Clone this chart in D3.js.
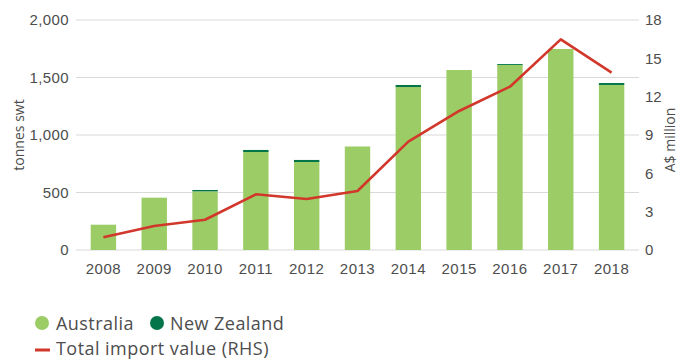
<!DOCTYPE html>
<html>
<head>
<meta charset="utf-8">
<script src="https://cdn.jsdelivr.net/npm/d3@7"></script>
<style>
  html, body { margin: 0; padding: 0; background: #fff; }
  svg { display: block; font-family: "Open Sans", "Lato", sans-serif; }
</style>
</head>
<body>
<svg id="chart" width="688" height="360"></svg>
<script>
// Import volumes (tonnes swt) by source, and total import value (A$ million)
const years = ["2008","2009","2010","2011","2012","2013","2014","2015","2016","2017","2018"];
const australia = [220, 455, 510, 852, 765, 900, 1417, 1565, 1609, 1748, 1435];
const newZealand = [0, 0, 12, 18, 18, 0, 18, 0, 8, 0, 17];
const importValue = [1.0, 1.88, 2.37, 4.36, 3.99, 4.62, 8.48, 10.88, 12.78, 16.48, 13.88];
const leftTicks = [0, 500, 1000, 1500, 2000];
const rightTicks = [0, 3, 6, 9, 12, 15, 18];

const colors = { australia: "#9ccc65", newZealand: "#047549", line: "#d2372b", grid: "#d9d9d9", text: "#4d4d4d" };

const svg = d3.select("#chart");
const plot = { left: 76, right: 639, top: 20, bottom: 250 };

const x = d3.scaleBand().domain(years).range([78, 637]).paddingInner(0.5).paddingOuter(0.25);
const yL = d3.scaleLinear().domain([0, 2000]).range([plot.bottom, plot.top]);
const yR = d3.scaleLinear().domain([0, 18]).range([plot.bottom, plot.top]);

// gridlines
svg.append("g").selectAll("line").data(leftTicks).join("line")
  .attr("x1", plot.left).attr("x2", plot.right)
  .attr("y1", d => yL(d)).attr("y2", d => yL(d))
  .attr("stroke", colors.grid).attr("stroke-width", 1.2);

// left axis
const leftAxis = svg.append("g").attr("transform", `translate(${plot.left},0)`)
  .call(d3.axisLeft(yL).tickValues(leftTicks).tickFormat(d3.format(",")).tickSize(0).tickPadding(7));
leftAxis.select(".domain").remove();
leftAxis.selectAll("text").attr("fill", colors.text).style("font-size", "15px").style("letter-spacing", "0.4px");

// right axis
const rightAxis = svg.append("g").attr("transform", `translate(${plot.right},0)`)
  .call(d3.axisRight(yR).tickValues(rightTicks).tickSize(0).tickPadding(6));
rightAxis.select(".domain").remove();
rightAxis.selectAll("text").attr("fill", colors.text).style("font-size", "15px");

// bottom axis
const bottomAxis = svg.append("g").attr("transform", `translate(0,${plot.bottom})`)
  .call(d3.axisBottom(x).tickSize(0).tickPadding(13));
bottomAxis.select(".domain").remove();
bottomAxis.selectAll("text").attr("fill", colors.text).style("font-size", "15px").style("letter-spacing", "0.5px");

// axis titles
svg.append("text").attr("transform", "translate(24,135) rotate(-90)")
  .attr("text-anchor", "middle").attr("fill", colors.text).style("font-size", "14px").text("tonnes swt");
svg.append("text").attr("transform", "translate(675,140) rotate(-90)")
  .attr("text-anchor", "middle").attr("fill", colors.text).style("font-size", "14px").text("A$ million");

// stacked bars
const rows = years.map((y, i) => ({ year: y, australia: australia[i], newZealand: newZealand[i] }));
const stack = d3.stack().keys(["australia", "newZealand"])(rows);
svg.append("g").selectAll("g").data(stack).join("g")
  .attr("fill", d => colors[d.key])
  .selectAll("rect").data(d => d.filter(s => s[1] > s[0])).join("rect")
  .attr("x", d => x(d.data.year)).attr("width", x.bandwidth())
  .attr("y", d => yL(d[1])).attr("height", d => yL(d[0]) - yL(d[1]));

// import value line
const line = d3.line().x((d, i) => x(years[i]) + x.bandwidth() / 2).y(d => yR(d));
svg.append("path").datum(importValue).attr("d", line)
  .attr("fill", "none").attr("stroke", colors.line).attr("stroke-width", 2.6).attr("stroke-linejoin", "round");

// legend
const legend = svg.append("g").style("font-size", "18px").style("letter-spacing", "0.45px").attr("fill", colors.text);
const items = [
  { label: "Australia", color: colors.australia, cx: 42, tx: 56 },
  { label: "New Zealand", color: colors.newZealand, cx: 157, tx: 170 }
];
items.forEach(it => {
  legend.append("circle").attr("cx", it.cx).attr("cy", 323).attr("r", 7).attr("fill", it.color);
  legend.append("text").attr("x", it.tx).attr("y", 330).text(it.label);
});
legend.append("line").attr("x1", 35).attr("x2", 50).attr("y1", 350).attr("y2", 350)
  .attr("stroke", colors.line).attr("stroke-width", 3);
legend.append("text").attr("x", 56).attr("y", 355).text("Total import value (RHS)");
</script>
</body>
</html>
